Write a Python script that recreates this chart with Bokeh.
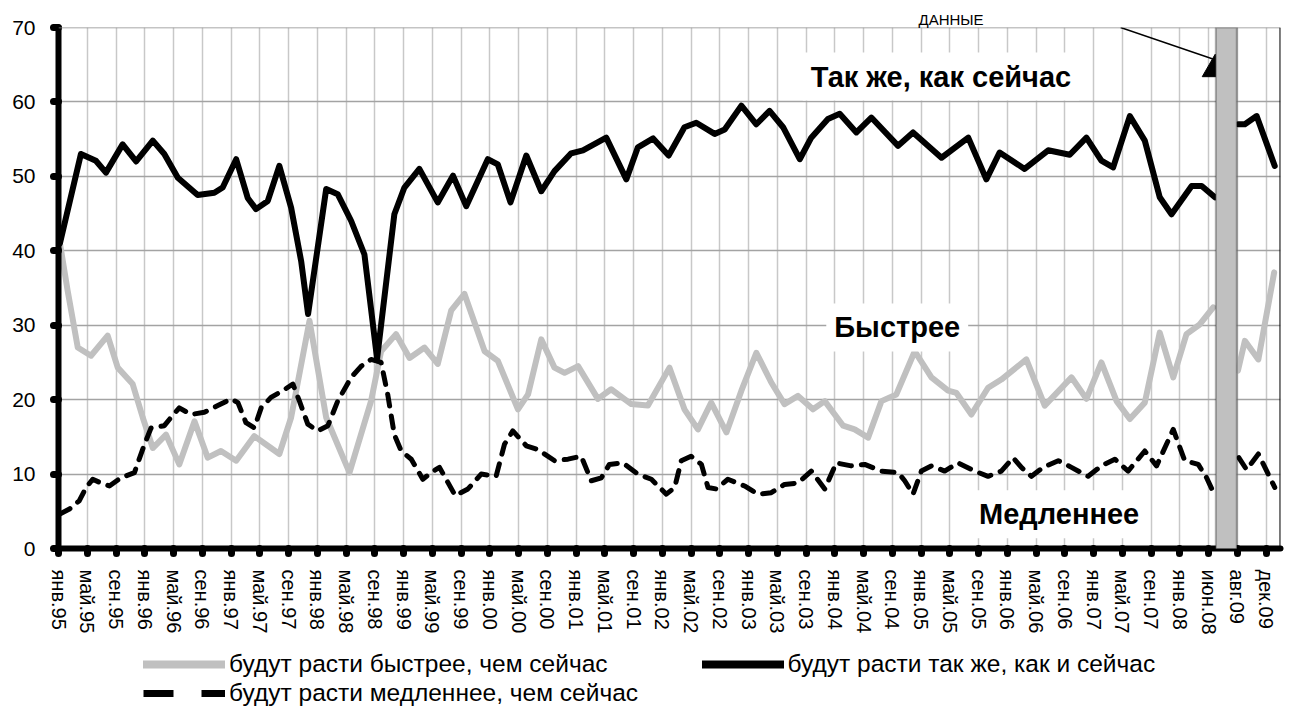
import numpy as np
from bokeh.plotting import figure
from bokeh.layouts import column
from bokeh.models import (FixedTicker, Legend, LegendItem, Label, Arrow, Span,
                          BoxAnnotation, Title)
from bokeh.embed import file_html
from bokeh.resources import INLINE

nan = float("nan")

# ---- category axis labels (one per tick) ----
tick_labels = [
    "янв.95", "май.95", "сен.95", "янв.96", "май.96", "сен.96",
    "янв.97", "май.97", "сен.97", "янв.98", "май.98", "сен.98",
    "янв.99", "май.99", "сен.99", "янв.00", "май.00", "сен.00",
    "янв.01", "май.01", "сен.01", "янв.02", "май.02", "сен.02",
    "янв.03", "май.03", "сен.03", "янв.04", "май.04", "сен.04",
    "янв.05", "май.05", "сен.05", "янв.06", "май.06", "сен.06",
    "янв.07", "май.07", "сен.07", "янв.08", "июн.08", "авг.09", "дек.09",
]
y_ticks = [0, 10, 20, 30, 40, 50, 60, 70]

# ---- series: position on the category axis (tick units) and value, % ----
pos_same = [0.05, 0.78, 1.30, 1.65, 2.23, 2.70, 3.28, 3.68, 4.15, 4.84, 5.42, 5.71,
            6.18, 6.58, 6.87, 7.28, 7.68, 8.09, 8.44, 8.68, 9.31, 9.71, 10.18, 10.64,
            11.08, 11.68, 12.03, 12.55, 13.19, 13.72, 14.18, 14.93, 15.28, 15.72,
            16.27, 16.79, 17.25, 17.83, 18.24, 19.05, 19.75, 20.15, 20.68, 21.22,
            21.77, 22.18, 22.82, 23.17, 23.75, 24.27, 24.73, 25.20, 25.78, 26.18,
            26.76, 27.17, 27.75, 28.27, 29.20, 29.72, 30.71, 31.64, 32.27, 32.73,
            33.60, 34.42, 35.17, 35.75, 36.27, 36.68, 37.26, 37.78, 38.30, 38.71,
            39.41, 39.76, 40.22, 40.60, 41.03, 41.26, 41.67, 42.30]
val_same = [41.0, 53.0, 52.1, 50.5, 54.3, 52.0, 54.8, 53.0, 49.8, 47.5, 47.8, 48.5,
            52.3, 47.1, 45.6, 46.7, 51.4, 45.8, 38.6, 31.5, 48.3, 47.6, 44.0, 39.5,
            25.5, 44.9, 48.5, 51.0, 46.5, 50.1, 46.0, 52.3, 51.6, 46.5,
            52.8, 48.0, 50.7, 53.1, 53.5, 55.2, 49.6, 53.9, 55.1, 52.8,
            56.6, 57.2, 55.7, 56.3, 59.5, 57.0, 58.8, 56.6, 52.3, 55.2,
            57.7, 58.4, 55.9, 57.9, 54.1, 55.9, 52.5, 55.2, 49.6, 53.2,
            51.0, 53.5, 52.9, 55.2, 52.1, 51.2, 58.1, 54.8, 47.2, 44.9,
            48.7, 48.7, 47.2, nan, 57.0, 57.0, 58.1, 51.4]

pos_fast = [0.05, 0.32, 0.67, 1.13, 1.71, 2.06, 2.58, 2.93, 3.28, 3.74, 4.20, 4.73,
            5.19, 5.65, 6.18, 6.81, 7.28, 7.68, 8.09, 8.73, 9.31, 10.12, 10.87, 11.22,
            11.74, 12.21, 12.73, 13.19, 13.66, 14.12, 14.82, 15.28, 15.98, 16.33,
            16.79, 17.25, 17.60, 18.07, 18.76, 19.22, 19.92, 20.50, 21.25, 21.77,
            22.24, 22.70, 23.23, 23.75, 24.27, 24.79, 25.25, 25.72, 26.24, 26.65,
            27.29, 27.69, 28.16, 28.62, 29.14, 29.78, 30.36, 30.94, 31.23, 31.75,
            32.33, 32.79, 33.66, 34.30, 35.23, 35.75, 36.27, 36.80, 37.26, 37.78,
            38.30, 38.77, 39.23, 39.69, 40.16, 40.60, 41.02, 41.26, 41.73, 42.28]
val_fast = [41.0, 34.6, 27.0, 25.9, 28.6, 24.3, 22.1, 17.6, 13.5, 15.3, 11.3, 17.1,
            12.2, 13.1, 11.8, 15.1, 13.8, 12.7, 17.6, 30.6, 17.6, 10.2, 19.8, 26.5,
            28.8, 25.6, 27.0, 24.8, 32.0, 34.2, 26.5, 25.2, 18.7, 20.7,
            28.1, 24.3, 23.6, 24.5, 20.1, 21.4, 19.4, 19.2, 24.3, 18.7,
            16.0, 19.6, 15.6, 21.2, 26.3, 22.3, 19.4, 20.5, 18.7, 19.8,
            16.5, 16.0, 14.9, 19.8, 20.7, 26.5, 23.0, 21.2, 20.9, 18.0,
            21.6, 22.7, 25.4, 19.2, 23.0, 20.1, 25.0, 19.8, 17.4, 19.6,
            29.0, 23.0, 28.8, 30.1, 32.4, nan, 23.9, 27.9, 25.4, 37.1]

pos_slow = [0.03, 0.38, 0.72, 0.96, 1.19, 1.48, 1.77, 2.17, 2.64, 2.99,
            3.22, 3.68, 3.91, 4.20, 4.61, 5.07, 5.54, 6.00, 6.24, 6.52,
            6.81, 7.05, 7.39, 7.80, 8.15, 8.38, 8.67, 9.02, 9.37, 9.71,
            10.18, 10.53, 10.87, 11.22, 11.45, 11.68, 11.92, 12.27, 12.67, 12.96,
            13.25, 13.80, 14.24, 14.70, 15.22, 15.51, 15.80, 16.27, 16.67, 17.25,
            17.72, 18.18, 18.53, 18.88, 19.16, 19.63, 20.15, 20.62, 21.14, 21.43,
            21.66, 22.00, 22.36, 22.59, 22.88, 23.28, 23.86, 24.33, 24.79, 25.25,
            25.72, 26.18, 26.65, 27.05, 27.57, 28.04, 28.62, 29.20, 29.43, 29.72,
            30.01, 30.36, 30.82, 31.29, 31.87, 32.33, 32.79, 33.20, 33.49, 33.84,
            34.24, 34.77, 35.23, 35.81, 36.27, 36.74, 37.20, 37.78, 38.19, 38.77,
            39.17, 39.64, 39.93, 40.16, 40.60, 41.05, 41.32, 41.73, 42.30]
val_slow = [4.6, 5.3, 6.4, 8.2, 9.3, 8.8, 8.4, 9.5, 10.2, 14.0,
            16.2, 16.5, 17.6, 18.9, 18.0, 18.3, 19.2, 20.1, 19.6, 16.9,
            16.2, 18.9, 20.3, 21.2, 22.1, 19.8, 16.7, 15.8, 16.5, 19.8,
            23.0, 24.5, 25.4, 25.0, 20.7, 15.3, 13.1, 12.0, 9.3, 10.2,
            10.9, 7.1, 8.0, 10.0, 9.7, 14.0, 15.8, 13.8, 13.3, 11.8,
            12.0, 12.4, 9.1, 9.5, 11.3, 11.5, 10.0, 9.3, 7.3, 8.2,
            11.8, 12.4, 11.3, 8.2, 8.0, 9.3, 8.4, 7.3, 7.5, 8.6,
            8.8, 10.4, 8.0, 11.5, 11.1, 11.3, 10.4, 10.2, 9.1, 7.3,
            10.4, 11.1, 10.4, 11.5, 10.4, 9.7, 10.4, 12.2, 10.9, 9.7,
            10.9, 11.8, 10.9, 9.7, 11.1, 12.0, 10.4, 13.1, 11.1, 16.0,
            11.8, 11.3, 9.5, 7.6, nan, 12.2, 10.6, 12.7, 8.2]

series_names = ["будут расти быстрее, чем сейчас",
                "будут расти так же, как и сейчас",
                "будут расти медленнее, чем сейчас"]

# period with no data (grey bar), in tick units
gap_start, gap_end = 40.25, 40.98

FONT = "Liberation Sans"
GREY = "#c0c0c0"

p = figure(frame_width=1222, frame_height=521,
           x_range=(0, 42.5), y_range=(0, 70),
           output_backend="svg", toolbar_location=None,
           min_border_left=58, min_border_right=13, min_border_top=27,
           min_border_bottom=89, outline_line_color=None,
           background_fill_color="white", border_fill_color="white")

# "ДАННЫЕ" caption above the plot area
p.title = Title(text="ДАННЫЕ", align="left", offset=860, standoff=0,
                text_font=FONT, text_font_size="15px", text_font_style="normal",
                text_color="black", vertical_align="bottom")

# axes
xt = FixedTicker(ticks=list(range(len(tick_labels))), minor_ticks=[])
yt = FixedTicker(ticks=y_ticks, minor_ticks=[])
p.xaxis.ticker = xt
p.yaxis.ticker = yt
p.xgrid.ticker = xt
p.ygrid.ticker = yt
p.xaxis.major_label_overrides = {i: lab for i, lab in enumerate(tick_labels)}
p.xaxis.major_label_orientation = "vertical"
for ax in (p.xaxis[0], p.yaxis[0]):
    ax.axis_line_width = 6
    ax.axis_line_color = "black"
    ax.axis_line_cap = "round"
    ax.major_tick_line_width = 7
    ax.major_tick_line_cap = "round"
    ax.major_tick_line_color = "black"
    ax.major_tick_out = 5
    ax.major_tick_in = 0
    ax.minor_tick_line_color = None
    ax.major_label_text_font = FONT
    ax.major_label_text_color = "black"
p.xaxis.major_label_text_font_size = "20px"
p.yaxis.major_label_text_font_size = "21px"
p.xaxis.major_label_standoff = 16
p.yaxis.major_label_standoff = 18

p.xgrid.grid_line_color = "#c8c8c8"
p.xgrid.grid_line_width = 1.5
p.ygrid.grid_line_color = "#a3a3a3"
p.ygrid.grid_line_width = 1.5

# top line and right border
p.add_layout(Span(location=70, dimension="width", line_color="#8a8a8a", line_width=1.5))
p.add_layout(Span(location=42.49, dimension="height", line_color="black", line_width=1.5))

# series
r_fast = p.line(pos_fast, val_fast, line_color=GREY, line_width=6,
                line_join="round", line_cap="round")
r_slow = p.line(pos_slow, val_slow, line_color="black", line_width=5,
                line_dash="12 10", line_join="round", line_cap="round")
r_same = p.line(pos_same, val_same, line_color="black", line_width=6,
                line_join="round", line_cap="round")

# grey "no data" bar
p.add_layout(BoxAnnotation(left=gap_start, right=gap_end, bottom=-0.7, top=70,
                           fill_color=GREY, fill_alpha=1.0,
                           line_color="black", line_width=2, level="overlay"))

# text annotations
def big_label(x, y, text):
    return Label(x=x, y=y, text=text, text_font=FONT, text_font_size="29px",
                 text_font_style="bold", text_color="black",
                 text_align="center", text_baseline="middle",
                 background_fill_color="white", padding=8)

p.add_layout(big_label(30.69, 63.4, "Так же, как сейчас"))
p.add_layout(big_label(29.17, 29.7, "Быстрее"))
p.add_layout(big_label(34.80, 4.6, "Медленнее"))

p.add_layout(Arrow(end=None, x_start=36.94, y_start=70.0, x_end=40.2, y_end=65.7,
                   line_color="black", line_width=1.5, level="overlay"))
p.scatter([40.23], [64.4], marker="triangle", size=26, fill_color="black",
          line_color="black", level="overlay")

# ---- legend strip under the chart ----
lg = figure(width=1293, height=71, x_range=(0, 1), y_range=(0, 1),
            x_axis_type=None, y_axis_type=None, output_backend="svg",
            toolbar_location=None, min_border=0, outline_line_color=None,
            background_fill_color="white", border_fill_color="white")
lg.grid.visible = False
# key samples (their data lies outside this strip's ranges, only the key is drawn)
k_fast = lg.line([5, 6], [5, 6], line_color=GREY, line_width=8, line_cap="round")
k_same = lg.line([5, 6], [5, 6], line_color="black", line_width=8, line_cap="round")
k_slow = lg.line([5, 6], [5, 6], line_color="black", line_width=7, line_dash="30 28",
                 line_cap="butt")

common = dict(orientation="horizontal", glyph_width=82, glyph_height=28,
              label_standoff=4, label_height=28, label_text_font=FONT,
              label_text_font_size="24.5px", label_text_color="black",
              padding=0, margin=0, border_line_color=None, background_fill_alpha=0)
leg1 = Legend(items=[LegendItem(label=series_names[0], renderers=[k_fast]),
                     LegendItem(label=series_names[1], renderers=[k_same])],
              location=(85, 30), spacing=94, **common)
leg2 = Legend(items=[LegendItem(label=series_names[2], renderers=[k_slow])],
              location=(85, 1), spacing=0, **common)
lg.add_layout(leg1, "center")
lg.add_layout(leg2, "center")

layout = column(p, lg, spacing=0)
open("out.html", "w").write(file_html(layout, INLINE))
